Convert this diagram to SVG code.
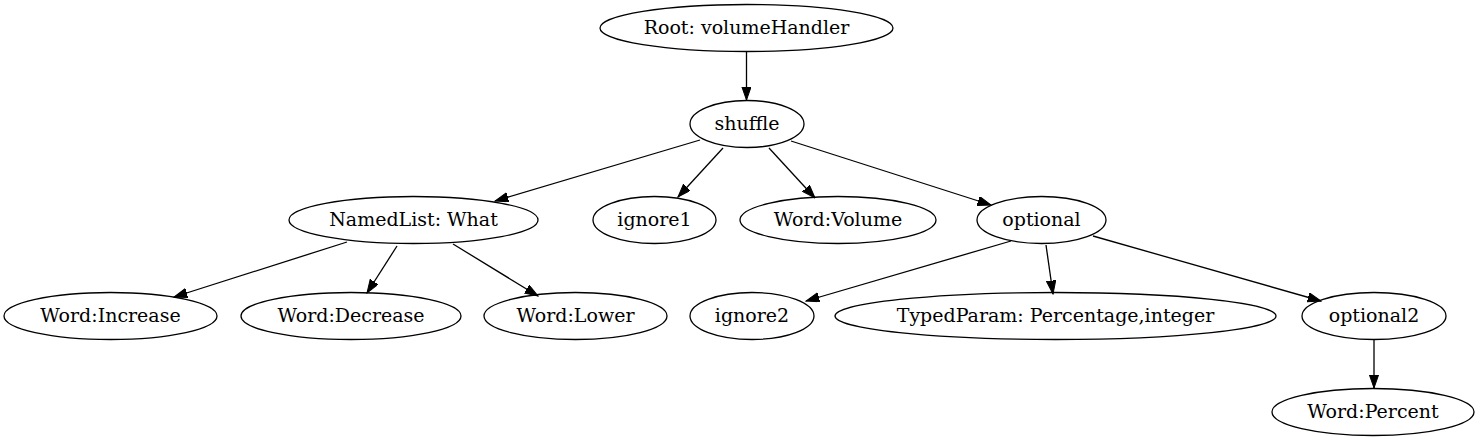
<svg xmlns="http://www.w3.org/2000/svg" width="1480" height="443" viewBox="0 0 1480 443">
<defs>
<style>
ellipse{fill:none;stroke:#000;stroke-width:1.3}
text{font-family:"DejaVu Serif","Liberation Serif",serif;font-size:19px;text-anchor:middle;fill:#000}
.e line{stroke:#000;stroke-width:1.3;marker-end:url(#ah)}
</style>
<marker id="ah" markerUnits="userSpaceOnUse" markerWidth="14" markerHeight="10" refX="13.3" refY="4.67" orient="auto">
<path d="M0,0 L13.3,4.67 L0,9.33 z" fill="#000" stroke="#000" stroke-width="1"/>
</marker>
</defs>
<rect width="1480" height="443" fill="#fff"/>
<g class="e" id="edges">
<line x1="746.5" y1="52" x2="746.5" y2="100"/>
<line x1="700" y1="140" x2="495" y2="201"/>
<line x1="723" y1="148" x2="678" y2="197"/>
<line x1="769" y1="148" x2="815" y2="198"/>
<line x1="791" y1="141" x2="991" y2="205"/>
<line x1="347" y1="242" x2="174" y2="297"/>
<line x1="397" y1="246" x2="367" y2="293"/>
<line x1="453" y1="244" x2="538" y2="296"/>
<line x1="1011" y1="241" x2="806" y2="301"/>
<line x1="1046" y1="245" x2="1053" y2="294"/>
<line x1="1093" y1="236" x2="1321" y2="301"/>
<line x1="1374" y1="340" x2="1374" y2="388"/>
</g>
<g id="root"><ellipse cx="746.5" cy="28" rx="146.5" ry="23.5"/><text x="746.5" y="34">Root: volumeHandler</text></g>
<g id="shuffle"><ellipse cx="747" cy="124" rx="57" ry="23.5"/><text x="747" y="130">shuffle</text></g>
<g id="namedlist"><ellipse cx="413.5" cy="220" rx="124.5" ry="23.5"/><text x="413.5" y="226">NamedList: What</text></g>
<g id="ignore1"><ellipse cx="654.5" cy="220" rx="61.5" ry="23.5"/><text x="654.5" y="226">ignore1</text></g>
<g id="wordvolume"><ellipse cx="838" cy="220" rx="98" ry="23.5"/><text x="838" y="226">Word:Volume</text></g>
<g id="optional"><ellipse cx="1041.5" cy="220" rx="64.5" ry="23.5"/><text x="1041.5" y="226">optional</text></g>
<g id="wordincrease"><ellipse cx="110.5" cy="316" rx="106.5" ry="23.5"/><text x="110.5" y="322">Word:Increase</text></g>
<g id="worddecrease"><ellipse cx="351" cy="316" rx="110" ry="23.5"/><text x="351" y="322">Word:Decrease</text></g>
<g id="wordlower"><ellipse cx="575.5" cy="316" rx="91.5" ry="23.5"/><text x="575.5" y="322">Word:Lower</text></g>
<g id="ignore2"><ellipse cx="752" cy="316" rx="62" ry="23.5"/><text x="752" y="322">ignore2</text></g>
<g id="typedparam"><ellipse cx="1055.5" cy="316" rx="220.5" ry="23.5"/><text x="1055.5" y="322">TypedParam: Percentage,integer</text></g>
<g id="optional2"><ellipse cx="1374" cy="316" rx="72" ry="23.5"/><text x="1374" y="322">optional2</text></g>
<g id="wordpercent"><ellipse cx="1373" cy="412" rx="101" ry="23.5"/><text x="1373" y="418">Word:Percent</text></g>
</svg>
